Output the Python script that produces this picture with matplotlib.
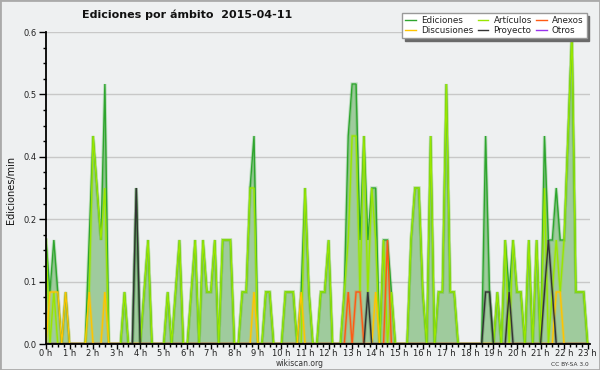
import matplotlib
matplotlib.use("Agg")
import matplotlib.pyplot as plt
import numpy as np
from matplotlib.ticker import FixedLocator, MultipleLocator

# Ediciones/min por intervalos de 10 minutos, 0 h -> 23 h
ediciones = [
    .2, .1, .2, .1, 0, .1, 0, 0, 0, 0, 0, .2,
    .4, .3, .2, .5, 0, 0, 0, 0, .1, 0, 0, .3,
    0, .1, .2, 0, 0, 0, 0, .1, 0, .1, .2, 0,
    0, .1, .2, 0, .2, .1, .1, .2, 0, .2, .2, .2,
    0, 0, .1, .1, .3, .4, 0, 0, .1, .1, 0, 0,
    0, .1, .1, .1, 0, .1, .3, .1, 0, 0, .1, .1,
    .2, 0, 0, 0, .1, .4, .5, .5, .2, .4, .2, .3,
    .3, 0, .2, .2, .1, 0, 0, 0, 0, .2, .3, .3,
    .1, 0, .4, 0, .1, .1, .5, .1, .1, 0, 0, 0,
    0, 0, 0, 0, .4, .1, 0, .1, 0, .2, .1, .2,
    .1, .1, 0, .2, 0, .2, 0, .4, .2, .2, .3, .2,
    .2, .4, .6, .1, .1, .1, 0,
]
articulos = [
    .2, 0, .1, 0, 0, 0, 0, 0, 0, 0, 0, .1,
    .4, .3, .2, .3, 0, 0, 0, 0, .1, 0, 0, 0,
    0, .1, .2, 0, 0, 0, 0, .1, 0, .1, .2, 0,
    0, .1, .2, 0, .2, .1, .1, .2, 0, .2, .2, .2,
    0, 0, .1, .1, .3, .3, 0, 0, .1, .1, 0, 0,
    0, .1, .1, .1, 0, 0, .3, .1, 0, 0, .1, .1,
    .2, 0, 0, 0, .1, .2, .4, .4, .1, .4, .1, .3,
    .2, 0, .2, 0, .1, 0, 0, 0, 0, .2, .3, .3,
    .1, 0, .4, 0, .1, .1, .5, .1, .1, 0, 0, 0,
    0, 0, 0, 0, 0, 0, 0, .1, 0, .2, 0, .2,
    .1, .1, 0, .2, 0, .2, 0, .3, 0, .1, .2, .1,
    .2, .4, .6, .1, .1, .1, 0,
]
discusiones = [
    0, .1, .1, .1, 0, .1, 0, 0, 0, 0, 0, .1,
    0, 0, 0, .1, 0, 0, 0, 0, 0, 0, 0, 0,
    0, 0, 0, 0, 0, 0, 0, 0, 0, 0, 0, 0,
    0, 0, 0, 0, 0, 0, 0, 0, 0, 0, 0, 0,
    0, 0, 0, 0, 0, .1, 0, 0, 0, 0, 0, 0,
    0, 0, 0, 0, 0, .1, 0, 0, 0, 0, 0, 0,
    0, 0, 0, 0, 0, 0, 0, 0, 0, 0, 0, 0,
    .1, 0, 0, 0, 0, 0, 0, 0, 0, 0, 0, 0,
    0, 0, 0, 0, 0, 0, 0, 0, 0, 0, 0, 0,
    0, 0, 0, 0, 0, 0, 0, 0, 0, 0, 0, 0,
    0, 0, 0, 0, 0, 0, 0, 0, 0, 0, .1, .1,
    0, 0, 0, 0, 0, 0, 0,
]
anexos = [
    0, 0, 0, 0, 0, 0, 0, 0, 0, 0, 0, 0,
    0, 0, 0, 0, 0, 0, 0, 0, 0, 0, 0, 0,
    0, 0, 0, 0, 0, 0, 0, 0, 0, 0, 0, 0,
    0, 0, 0, 0, 0, 0, 0, 0, 0, 0, 0, 0,
    0, 0, 0, 0, 0, 0, 0, 0, 0, 0, 0, 0,
    0, 0, 0, 0, 0, 0, 0, 0, 0, 0, 0, 0,
    0, 0, 0, 0, 0, .1, 0, .1, .1, 0, 0, 0,
    0, 0, 0, .2, 0, 0, 0, 0, 0, 0, 0, 0,
    0, 0, 0, 0, 0, 0, 0, 0, 0, 0, 0, 0,
    0, 0, 0, 0, 0, 0, 0, 0, 0, 0, 0, 0,
    0, 0, 0, 0, 0, 0, 0, 0, 0, 0, 0, 0,
    0, 0, 0, 0, 0, 0, 0,
]
proyecto = [
    0, 0, 0, 0, 0, 0, 0, 0, 0, 0, 0, 0,
    0, 0, 0, 0, 0, 0, 0, 0, 0, 0, 0, .3,
    0, 0, 0, 0, 0, 0, 0, 0, 0, 0, 0, 0,
    0, 0, 0, 0, 0, 0, 0, 0, 0, 0, 0, 0,
    0, 0, 0, 0, 0, 0, 0, 0, 0, 0, 0, 0,
    0, 0, 0, 0, 0, 0, 0, 0, 0, 0, 0, 0,
    0, 0, 0, 0, 0, 0, 0, 0, 0, 0, .1, 0,
    0, 0, 0, 0, 0, 0, 0, 0, 0, 0, 0, 0,
    0, 0, 0, 0, 0, 0, 0, 0, 0, 0, 0, 0,
    0, 0, 0, 0, .1, .1, 0, 0, 0, 0, .1, 0,
    0, 0, 0, 0, 0, 0, 0, .1, .2, .1, 0, 0,
    0, 0, 0, 0, 0, 0, 0,
]
otros = [0] * len(ediciones)

y_ticks = [0, .12, .24, .36, .48, .6]
y_labels = ["0.0", "0.1", "0.2", "0.4", "0.5", "0.6"]
hours = list(range(24))

BG = "#eef0f1"
t = np.arange(len(ediciones)) / 6.0   # horas

fig = plt.figure(figsize=(6, 3.7), dpi=100, facecolor=BG)
ax = fig.add_axes([46 / 600, 1 - 344 / 370, 544 / 600, 312 / 370])
ax.set_facecolor(BG)

ax.fill_between(t, ediciones, 0, color="#9fcb9d", lw=0, zorder=1)
series = [
    (ediciones, "#2ea52e", "Ediciones"),
    (articulos, "#99e600", "Artículos"),
    (discusiones, "#ffc400", "Discusiones"),
    (anexos, "#ff5a14", "Anexos"),
    (proyecto, "#333333", "Proyecto"),
    (otros, "#9933ee", "Otros"),
]
handles = {}
for vals, col, name in series:
    ax.plot(t, vals, color=col, lw=2.4, alpha=0.25, zorder=1.5, solid_joinstyle="miter")
    ln, = ax.plot(t, vals, color=col, lw=1.0, zorder=1.6, solid_joinstyle="miter")
    handles[name] = ln

ax.set_xlim(0, 23.1)
ax.set_ylim(0, 0.6)
ax.yaxis.set_major_locator(FixedLocator(y_ticks))
ax.set_yticklabels(y_labels)
ax.yaxis.set_minor_locator(MultipleLocator(0.03))
ax.set_xticks(hours)
ax.set_xticklabels([f"{h} h" for h in hours])
ax.xaxis.set_minor_locator(MultipleLocator(0.25))
ax.grid(axis="y", color="#c8c8c8", lw=1)
ax.set_axisbelow(True)
ax.tick_params(axis="y", which="major", direction="out", length=5, width=1,
               labelsize=6, color="black", pad=1.5, labelcolor="#222222")
ax.tick_params(axis="x", which="major", direction="out", length=3.5, width=1,
               labelsize=6, color="black", pad=0, labelcolor="#222222")
ax.tick_params(axis="y", which="minor", direction="out", length=2.5, width=1)
ax.tick_params(axis="x", which="minor", direction="out", length=2.5, width=1)
for s in ("top", "right"):
    ax.spines[s].set_visible(False)
for s in ("left", "bottom"):
    ax.spines[s].set_linewidth(1.3)
    ax.spines[s].set_zorder(3)

order = ["Ediciones", "Discusiones", "Artículos", "Proyecto", "Anexos", "Otros"]
leg = fig.legend([handles[k] for k in order], order, ncol=3,
                 loc="upper right", bbox_to_anchor=(591 / 600, 1 - 9 / 370),
                 fontsize=6.3, frameon=True, fancybox=False, framealpha=1,
                 edgecolor="#999999", handlelength=1.2, handletextpad=0.6,
                 columnspacing=0.5, labelspacing=0.05, borderpad=0.35,
                 shadow={"color": "#6a6a6a", "alpha": 1})
for tx in leg.get_texts():
    tx.set_color("#222222")

fig.text(187 / 600, 1 - 15 / 370, "Ediciones por ámbito  2015-04-11",
         ha="center", va="center", fontsize=8, fontweight="bold", color="#111111")
fig.text(11 / 600, 1 - 190 / 370, "Ediciones/min", rotation=90,
         ha="center", va="center", fontsize=7, color="#111111")
fig.text(300 / 600, 1 - 364 / 370, "wikiscan.org", ha="center", va="center",
         fontsize=5.5, color="#333333")
fig.text(570 / 600, 1 - 364.5 / 370, "CC BY-SA 3.0", ha="center", va="center",
         fontsize=4.2, color="#333333")

fig.patches.append(plt.Rectangle((0, 0), 1, 1, transform=fig.transFigure,
                                 fill=False, edgecolor="#aaaaaa", lw=2))

fig.savefig("out.png", dpi=100, facecolor=BG)
